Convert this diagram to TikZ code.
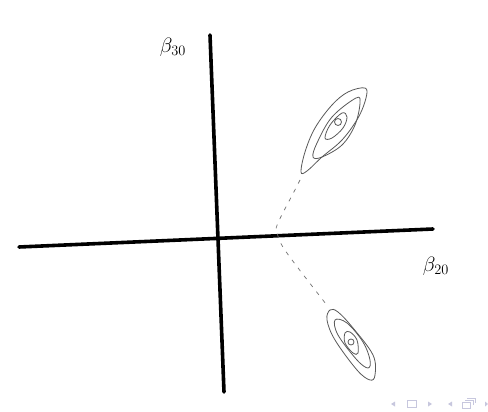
\documentclass[tikz,border=0pt]{standalone}
\usetikzlibrary{positioning}
\begin{document}
\begin{tikzpicture}[x=1pt,y=-1pt,
  axis/.style={line width=3.6pt, line cap=round},
  contour/.style={draw=black!65, line width=0.8pt},
  path/.style={draw=black!55, line width=0.7pt, dash pattern=on 4pt off 6pt},
  navsym/.style={fill=blue!25!gray!35, draw=none}]
\useasboundingbox (0,0) rectangle (488,412);
\fill[white] (0,0) rectangle (488,412);

% axes
\coordinate (xl) at (19,247);
\coordinate (xr) at (433,229);
\coordinate (yt) at (210,35);
\coordinate (yb) at (224,392);
\draw[axis] (xl) -- (xr);
\draw[axis] (yt) -- (yb);

% axis labels
\node[font=\fontsize{22}{24}\selectfont] (b30) at (173,47) {$\beta_{30}$};
\node[font=\fontsize{22}{24}\selectfont] (b20) at (436,266) {$\beta_{20}$};

% upper contours
\draw[contour] plot[smooth cycle, tension=0.6] coordinates {(365,88) (348,92) (332,105) (315,128) (305,152) (301,172) (307,171) (322,157) (342,140) (358,118) (366,98)};
\draw[contour] plot[smooth cycle, tension=0.6] coordinates {(356,98) (332,117) (317,143) (313,157) (322,157) (342,145) (355,125) (360,103)};
\draw[contour] plot[smooth cycle, tension=0.6] coordinates {(342,113) (330,125) (325,138) (332,138) (343,128) (347,117)};
\draw[contour] (338,122) circle[radius=3.5];

% lower contours
\draw[contour] plot[smooth cycle, tension=0.6] coordinates {(330,310) (327,320) (335,340) (357,370) (370,380) (375,375) (373,355) (353,328) (338,312)};
\draw[contour] plot[smooth cycle, tension=0.6] coordinates {(335,320) (338,335) (357,360) (368,368) (370,360) (363,342) (347,323)};
\draw[contour] plot[smooth cycle, tension=0.6] coordinates {(345,333) (345,343) (353,353) (358,353) (357,340) (350,332)};
\draw[contour] (351,342) circle[radius=3];

% dashed path between the two modes
\coordinate (upperend) at (300,180);
\coordinate (knee) at (277,232);
\coordinate (lowerend) at (326,304);
\draw[path] (upperend) .. controls (285,210) and (272,230) .. (knee) .. controls (280,245) .. (lowerend);

% navigation symbols
\fill[navsym] (391,404) -- (395,401.5) -- (395,406.5) -- cycle;
\draw[blue!25!gray!35, line width=1pt] (407,400) rectangle (416,407);
\fill[navsym] (432,404) -- (428,401.5) -- (428,406.5) -- cycle;
\fill[navsym] (448,404) -- (452,401.5) -- (452,406.5) -- cycle;
\draw[blue!25!gray!35, line width=1pt] (462,402) rectangle (470,408);
\draw[blue!25!gray!35, line width=1pt] (465,400) -- (473,400) -- (473,405);
\draw[blue!25!gray!35, line width=1pt] (467,398) -- (475,398) -- (475,403);
\fill[navsym] (488,404) -- (485,401.5) -- (485,406.5) -- cycle;
\end{tikzpicture}
\end{document}
